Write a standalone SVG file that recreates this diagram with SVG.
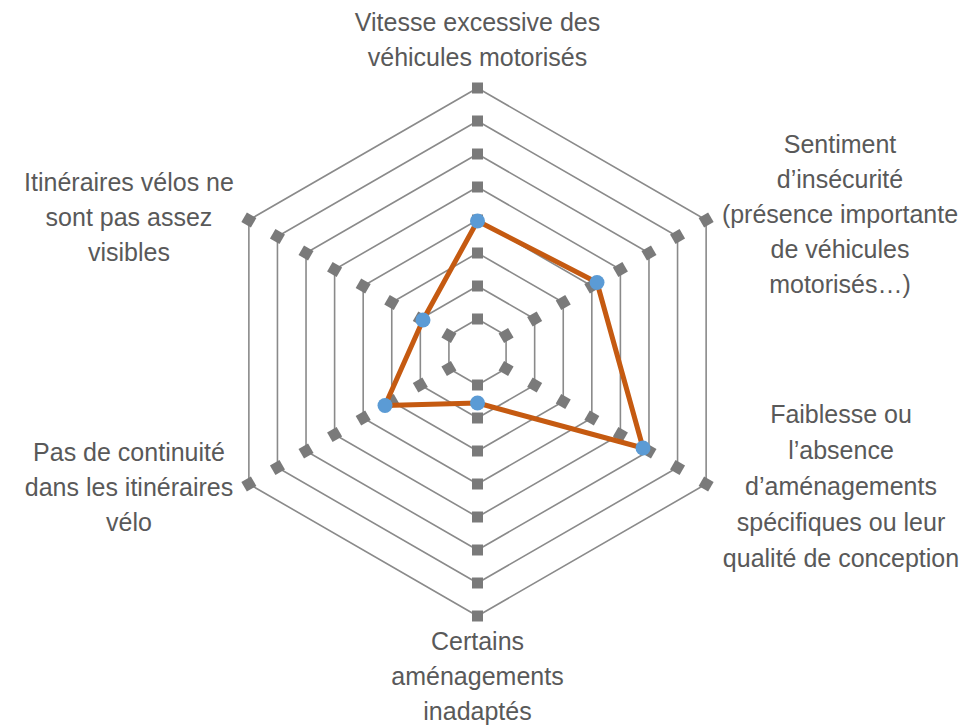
<svg xmlns="http://www.w3.org/2000/svg" width="976" height="728" viewBox="0 0 976 728">
  <style>
    .grid { fill: none; stroke: #8a8a8a; stroke-width: 1.6; marker-start: url(#sq); marker-mid: url(#sq); }
    .lbl { font-family: "Liberation Sans", Arial, sans-serif; font-size: 25px; fill: #595959; text-anchor: middle; }
    .series { fill: none; stroke: #C55A11; stroke-width: 5; stroke-linejoin: round; }
    .pt { fill: #5B9BD5; }
  </style>
  <defs>
    <marker id="sq" markerWidth="14" markerHeight="14" refX="7" refY="7" orient="auto" markerUnits="userSpaceOnUse" overflow="visible">
      <rect x="1.5" y="1.5" width="11" height="11" fill="#7a7a7a"/>
    </marker>
  </defs>
  <rect width="976" height="728" fill="#ffffff"/>

  <g id="grid">
    <path class="grid" d="M477.5,319 L506.08,335.5 L506.08,368.5 L477.5,385 L448.92,368.5 L448.92,335.5 Z"/>
    <path class="grid" d="M477.5,286 L534.66,319 L534.66,385 L477.5,418 L420.34,385 L420.34,319 Z"/>
    <path class="grid" d="M477.5,253 L563.24,302.5 L563.24,401.5 L477.5,451 L391.76,401.5 L391.76,302.5 Z"/>
    <path class="grid" d="M477.5,220 L591.82,286 L591.82,418 L477.5,484 L363.18,418 L363.18,286 Z"/>
    <path class="grid" d="M477.5,187 L620.39,269.5 L620.39,434.5 L477.5,517 L334.61,434.5 L334.61,269.5 Z"/>
    <path class="grid" d="M477.5,154 L648.97,253 L648.97,451 L477.5,550 L306.03,451 L306.03,253 Z"/>
    <path class="grid" d="M477.5,121 L677.55,236.5 L677.55,467.5 L477.5,583 L277.45,467.5 L277.45,236.5 Z"/>
    <path class="grid" d="M477.5,88 L706.13,220 L706.13,484 L477.5,616 L248.87,484 L248.87,220 Z"/>
  </g>

  <g id="connectors">
    <path class="series" d="M477.5,221 L597,282.5 L643,448 L477.5,403 L385,405.5 L423,320 Z"/>
  </g>

  <g id="points">
    <circle class="pt" cx="477.5" cy="221" r="7.5"/>
    <circle class="pt" cx="597" cy="282.5" r="7.5"/>
    <circle class="pt" cx="643" cy="448" r="7.5"/>
    <circle class="pt" cx="477.5" cy="403" r="7.5"/>
    <circle class="pt" cx="385" cy="405.5" r="7.5"/>
    <circle class="pt" cx="423" cy="320" r="7.5"/>
  </g>

  <g id="label-top">
    <text class="lbl" x="477.5" y="31">Vitesse excessive des<tspan x="477.5" dy="35">véhicules motorisés</tspan></text>
  </g>
  <g id="label-upper-right">
    <text class="lbl" x="840" y="153">Sentiment<tspan x="840" dy="35">d’insécurité</tspan><tspan x="840" dy="35">(présence importante</tspan><tspan x="840" dy="35">de véhicules</tspan><tspan x="840" dy="35">motorisés…)</tspan></text>
  </g>
  <g id="label-lower-right">
    <text class="lbl" x="841" y="423">Faiblesse ou<tspan x="841" dy="36">l’absence</tspan><tspan x="841" dy="36">d’aménagements</tspan><tspan x="841" dy="36">spécifiques ou leur</tspan><tspan x="841" dy="36">qualité de conception</tspan></text>
  </g>
  <g id="label-bottom">
    <text class="lbl" x="477.5" y="650">Certains<tspan x="477.5" dy="35">aménagements</tspan><tspan x="477.5" dy="35">inadaptés</tspan></text>
  </g>
  <g id="label-lower-left">
    <text class="lbl" x="129" y="461">Pas de continuité<tspan x="129" dy="35">dans les itinéraires</tspan><tspan x="129" dy="35">vélo</tspan></text>
  </g>
  <g id="label-upper-left">
    <text class="lbl" x="129" y="191">Itinéraires vélos ne<tspan x="129" dy="35">sont pas assez</tspan><tspan x="129" dy="35">visibles</tspan></text>
  </g>
</svg>
